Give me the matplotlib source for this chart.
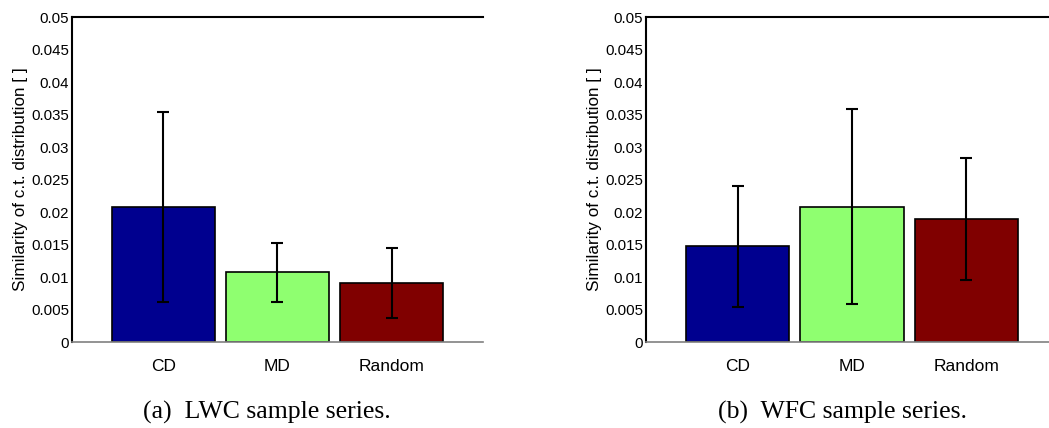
import matplotlib
matplotlib.use('Agg')
import matplotlib.pyplot as plt

categories = ['CD', 'MD', 'Random']
bar_colors = ['#00008f', '#8fff70', '#800000']

# mean similarity and error half-width for each sample series
lwc_means = [0.0208, 0.0107, 0.0091]
lwc_errors = [0.0146, 0.0045, 0.0054]
wfc_means = [0.0147, 0.0208, 0.0189]
wfc_errors = [0.0093, 0.0150, 0.0094]

y_ticks = [0, 0.005, 0.01, 0.015, 0.02, 0.025, 0.03, 0.035, 0.04, 0.045, 0.05]
y_tick_labels = ['0', '0.005', '0.01', '0.015', '0.02', '0.025', '0.03',
                 '0.035', '0.04', '0.045', '0.05']
captions = ['(a)  LWC sample series.', '(b)  WFC sample series.']

plt.rcParams['font.family'] = ['Liberation Sans', 'DejaVu Sans']

fig = plt.figure(figsize=(10.49, 4.28), dpi=100)
ax_left = fig.add_axes([0.0686, 0.2009, 0.3918, 0.7593])
ax_right = fig.add_axes([0.6158, 0.2009, 0.3928, 0.7593])


def draw_panel(ax, means, errors):
    x = range(1, len(categories) + 1)
    ax.bar(x, means, width=0.9, color=bar_colors, edgecolor='black',
           linewidth=1.2, zorder=2)
    ax.errorbar(x, means, yerr=errors, fmt='none', ecolor='black',
                elinewidth=1.5, capsize=4.5, capthick=1.5, zorder=3)
    ax.set_xlim(0.2, 3.8)
    ax.set_ylim(0, 0.05)
    ax.set_xticks(list(x))
    ax.set_xticklabels(categories, fontsize=12.5)
    ax.set_yticks(y_ticks)
    ax.set_yticklabels(y_tick_labels, fontsize=10.8)
    ax.tick_params(axis='x', length=0, pad=12)
    ax.tick_params(axis='y', length=0, pad=2)
    ax.set_ylabel('Similarity of c.t. distribution [ ]', fontsize=12.3, labelpad=2)
    ax.spines['right'].set_visible(False)
    ax.spines['top'].set_linewidth(1.5)
    ax.spines['left'].set_linewidth(1.5)
    ax.spines['bottom'].set_color('#808080')
    ax.spines['bottom'].set_linewidth(1.2)


draw_panel(ax_left, lwc_means, lwc_errors)
draw_panel(ax_right, wfc_means, wfc_errors)

fig.text(267 / 1049, 1 - 412 / 428, captions[0], ha='center', va='center',
         fontsize=18.5, family=['Liberation Serif', 'DejaVu Serif'])
fig.text(843 / 1049, 1 - 412 / 428, captions[1], ha='center', va='center',
         fontsize=18.5, family=['Liberation Serif', 'DejaVu Serif'])

fig.savefig('out.png', dpi=100)
